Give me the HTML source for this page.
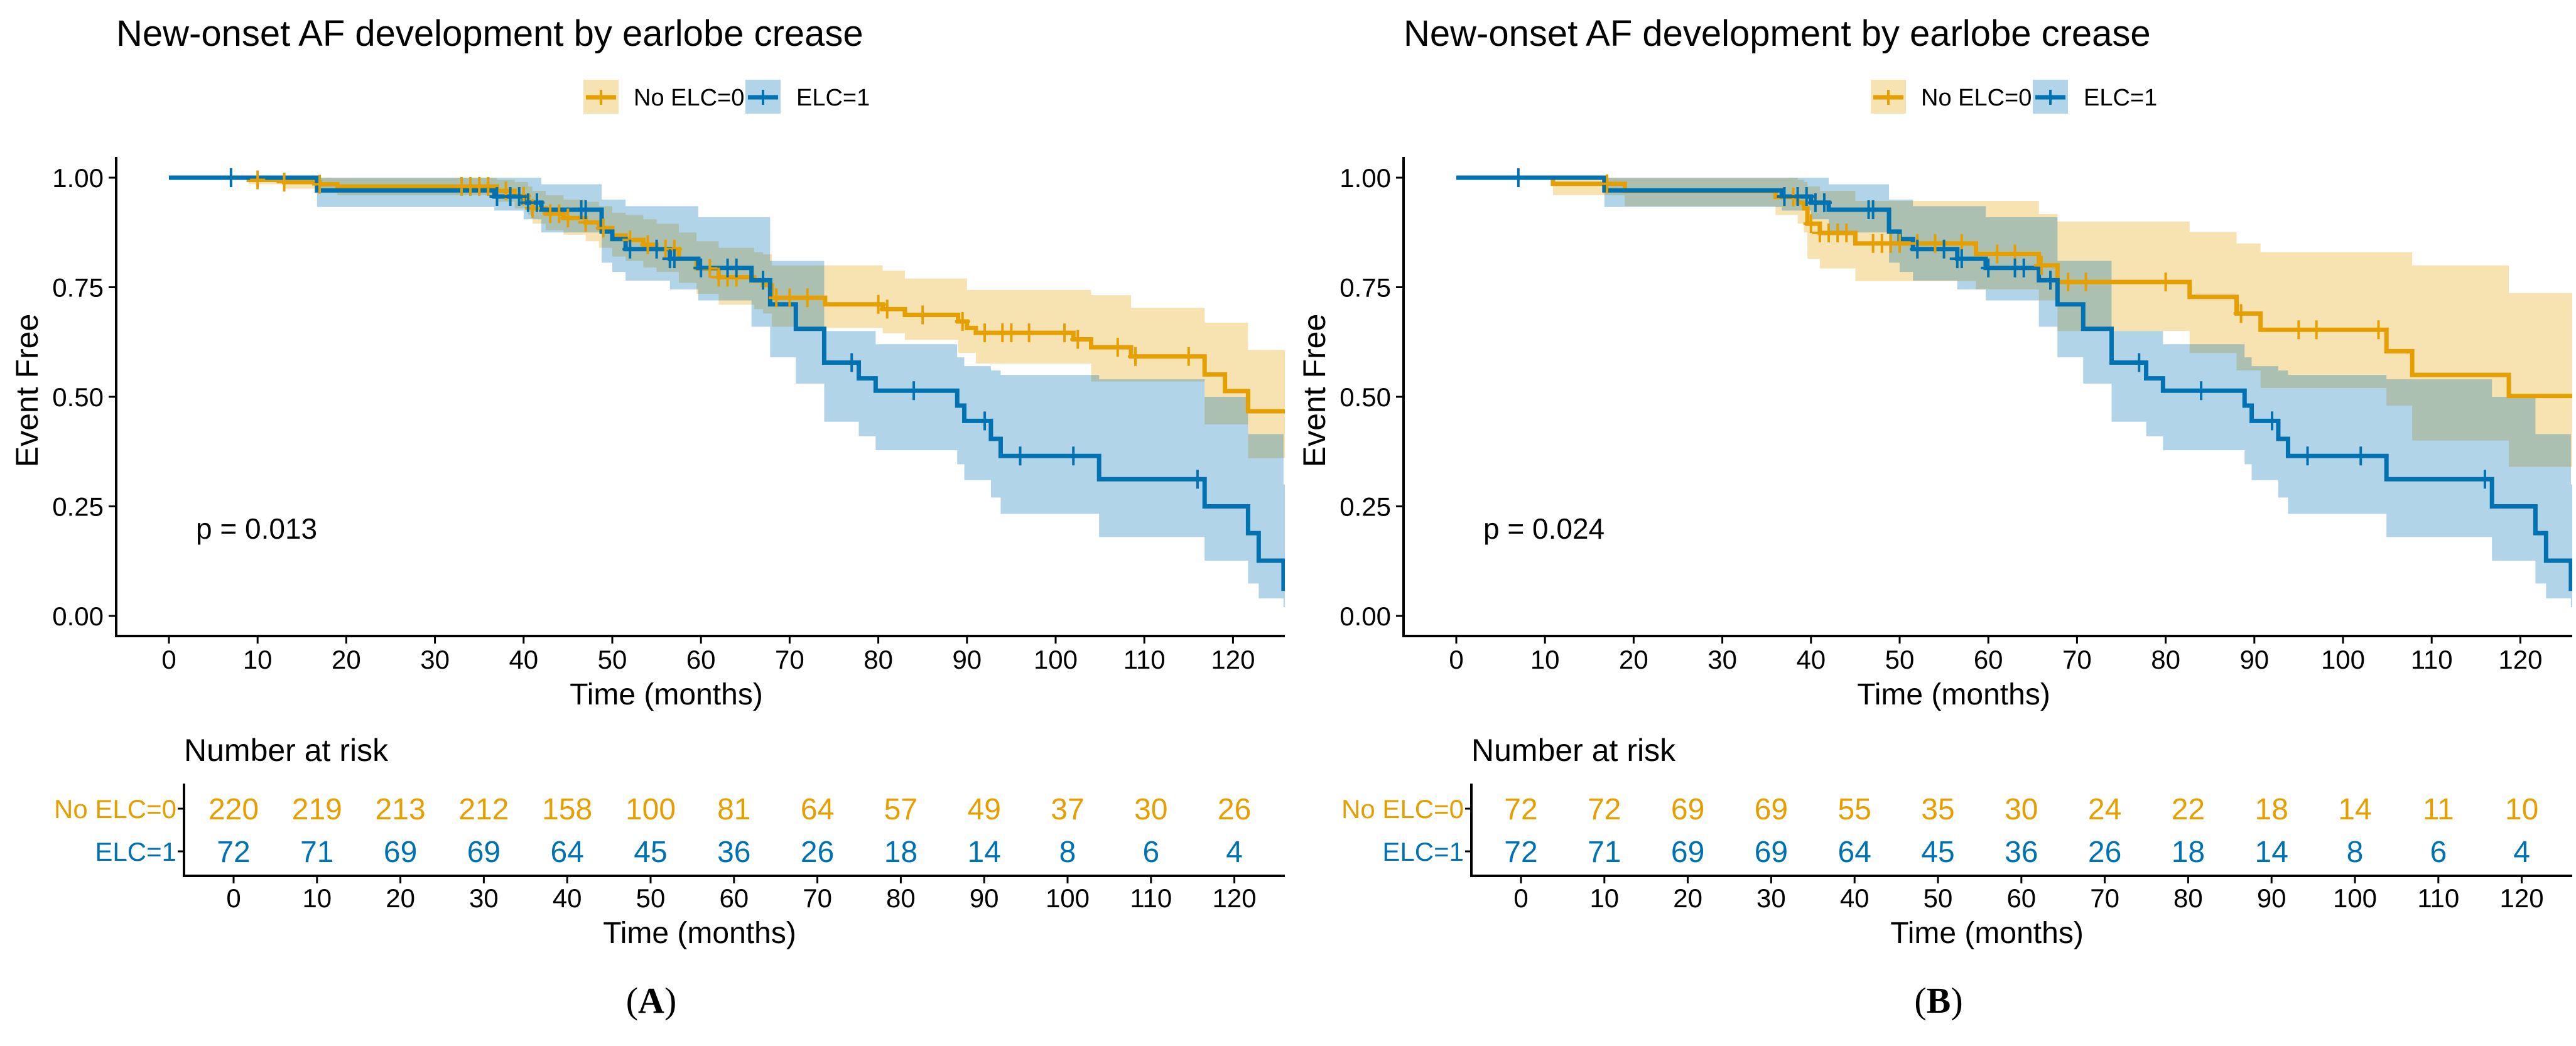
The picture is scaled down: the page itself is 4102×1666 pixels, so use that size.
<!DOCTYPE html>
<html><head><meta charset="utf-8"><style>
html,body{margin:0;padding:0;background:#fff}
svg{display:block;font-family:"Liberation Sans",Arial,sans-serif}
</style></head><body>
<svg id="root" width="4102" height="1666" viewBox="0 0 4102 1666" xmlns="http://www.w3.org/2000/svg"></svg>
<script>
// ---------- data ----------
const tickTimes = [0,10,20,30,40,50,60,70,80,90,100,110,120];
const yTicks = [0,0.25,0.5,0.75,1];
const yTickLabels = ["0.00","0.25","0.50","0.75","1.00"];

// ELC=1 (same cohort in both panels)
const blueT  = [0,16.7,36.7,40,42,48.8,50,51.5,56.5,59.7,65.7,67.8,70.7,73.9,77.8,79.7,88.9,89.7,92.7,93.8,104.9,116.8,121.7,122.9,125.7];
const blueS  = [1,0.971,0.957,0.943,0.927,0.877,0.86,0.837,0.815,0.794,0.766,0.711,0.655,0.578,0.542,0.514,0.48,0.445,0.404,0.365,0.312,0.25,0.189,0.126,0.062];
const blueLo = [1,0.933,0.925,0.905,0.875,0.806,0.785,0.765,0.745,0.72,0.66,0.59,0.53,0.443,0.41,0.378,0.346,0.31,0.27,0.233,0.18,0.126,0.074,0.04,0.02];
const blueHi = [1,1,1,1,0.985,0.95,0.95,0.935,0.935,0.91,0.91,0.81,0.81,0.65,0.65,0.62,0.59,0.57,0.56,0.55,0.54,0.50,0.415,0.415,0.3];
const blueCens = [7,37,38.5,39.5,40.5,41.5,46.5,47,52,55,56.5,57,60,63,64,67,77,84,92,96,102,116];

// Panel A: No ELC=0
const aYelT  = [0,9,13,17,19,37,39,40.5,41,42.5,44.5,47,48.5,50,51.5,53.5,55,57.5,59.5,62,66,67,68,74,80.5,83,89,90,91,102,104,108.5,116.8,119.1,121.7];
const aYelS  = [1,0.995,0.99,0.985,0.98,0.97,0.958,0.945,0.93,0.918,0.908,0.898,0.885,0.868,0.858,0.847,0.837,0.815,0.793,0.773,0.765,0.755,0.726,0.711,0.70,0.687,0.672,0.657,0.646,0.631,0.613,0.592,0.551,0.513,0.467];
const aYelLo = [1,0.985,0.975,0.965,0.96,0.945,0.93,0.915,0.895,0.88,0.87,0.855,0.84,0.82,0.81,0.795,0.785,0.76,0.735,0.71,0.70,0.69,0.66,0.657,0.645,0.63,0.60,0.60,0.576,0.576,0.535,0.535,0.437,0.437,0.36];
const aYelHi = [1,1,1,1,1,0.995,0.99,0.98,0.97,0.96,0.95,0.945,0.935,0.92,0.915,0.905,0.895,0.875,0.855,0.84,0.83,0.825,0.80,0.80,0.788,0.77,0.77,0.744,0.744,0.744,0.732,0.703,0.669,0.669,0.607];
const aYelCens = [10,13,17,33,34,35,36,38,40,41,43,44,45,47,49,52,54,56,57,61,62,63,64,68.5,70,72,80,81,85,89.5,92,94,95,97,101,102.5,107,109,115];

// Panel B: No ELC=0
const bYelT  = [0,10.9,19,36,38.5,39.2,39.6,41,45,58.6,65.7,67.8,82.7,88,90.7,104.9,107.8,118.7];
const bYelS  = [1,0.986,0.97,0.956,0.943,0.93,0.895,0.874,0.85,0.826,0.80,0.762,0.728,0.69,0.653,0.604,0.55,0.502];
const bYelLo = [1,0.96,0.935,0.915,0.895,0.875,0.815,0.793,0.764,0.745,0.72,0.65,0.60,0.56,0.52,0.48,0.40,0.34];
const bYelHi = [1,1,1,1,0.995,0.99,0.98,0.97,0.947,0.947,0.917,0.90,0.876,0.85,0.83,0.83,0.80,0.737];
const bYelCens = [17,37,38,40,41,42,43,44,47,48,49,50,52,54,57,61,63,66,69,71,80,88.5,95,97,104];

const aRiskYel = [220,219,213,212,158,100,81,64,57,49,37,30,26];
const bRiskYel = [72,72,69,69,55,35,30,24,22,18,14,11,10];
const riskBlue = [72,71,69,69,64,45,36,26,18,14,8,6,4];

// ---------- drawing ----------
const NS = "http://www.w3.org/2000/svg";
const root = document.getElementById("root");
const YEL = "#E69F00", BLU = "#0072B2";
const TMAX = 125.85;
function xs(t){ return 269 + t*14.12; }
function ys(s){ return 981 - s*698; }
function xr(t){ return 372 + t*13.28; }
function mk(parent, tag, attrs, text){
  const e = document.createElementNS(NS, tag);
  for (const k in attrs) e.setAttribute(k, attrs[k]);
  if (text !== undefined) e.textContent = text;
  parent.appendChild(e); return e;
}
function stepPath(T, S){
  let d = "M" + xs(T[0]) + "," + ys(S[0]);
  for (let i=1;i<T.length;i++){ d += "H" + xs(T[i]) + "V" + ys(S[i]); }
  d += "H" + xs(TMAX); return d;
}
function bandPath(T, Lo, Hi){
  let d = "M" + xs(T[0]) + "," + ys(Hi[0]);
  for (let i=1;i<T.length;i++){ d += "H" + xs(T[i]) + "V" + ys(Hi[i]); }
  d += "H" + xs(TMAX) + "V" + ys(Lo[Lo.length-1]);
  for (let i=T.length-1;i>=1;i--){ d += "H" + xs(T[i]) + "V" + ys(Lo[i-1]); }
  d += "H" + xs(T[0]) + "Z"; return d;
}
function survAt(T,S,t){ let v=S[0]; for(let i=0;i<T.length;i++){ if(T[i]<=t) v=S[i]; } return v; }

function panel(ox, label, yT, yS, yLo, yHi, yC, riskY, pText){
  const g = mk(root, "g", {transform:"translate("+ox+",0)"});
  
  
  let e;
  e = mk(g,"text",{x:185,y:73,"font-size":58,fill:"#000"},"New-onset AF development by earlobe crease");
   
  // legend
  const lg = mk(g,"g",{});
   
  const items = [[929,YEL,"No ELC=0",1009],[1187,BLU,"ELC=1",1268]];
  items.forEach(it=>{
    const li = mk(lg,"g",{});
     
    mk(li,"rect",{x:it[0],y:127,width:56,height:54,fill:it[1],"fill-opacity":0.3});
    mk(li,"line",{x1:it[0]+4,y1:155,x2:it[0]+52,y2:155,stroke:it[1],"stroke-width":7});
    mk(li,"line",{x1:it[0]+28,y1:143,x2:it[0]+28,y2:167,stroke:it[1],"stroke-width":4});
    mk(li,"text",{x:it[3],y:168,"font-size":38,fill:"#000"},it[2]);
  });
  // clip
  const cid = "clip"+label;
  const defs = mk(g,"defs",{});
  const cp = mk(defs,"clipPath",{id:cid});
  mk(cp,"rect",{x:186,y:240,width:1860,height:772});
  const plot = mk(g,"g",{"clip-path":"url(#"+cid+")"});
   
  e = mk(plot,"path",{d:bandPath(yT,yLo,yHi),fill:YEL,"fill-opacity":0.3});
   
  e = mk(plot,"path",{d:bandPath(blueT,blueLo,blueHi),fill:BLU,"fill-opacity":0.3});
   
  e = mk(plot,"path",{d:stepPath(yT,yS),fill:"none",stroke:YEL,"stroke-width":7});
   
  e = mk(plot,"path",{d:stepPath(blueT,blueS),fill:"none",stroke:BLU,"stroke-width":7});
   
  [[yC,yT,yS,YEL],[blueCens,blueT,blueS,BLU]].forEach(c=>{
    c[0].forEach(t=>{
      const x=xs(t), y=ys(survAt(c[1],c[2],t));
      const m = mk(plot,"path",{d:"M"+(x-12)+","+y+"H"+(x+12)+"M"+x+","+(y-15)+"V"+(y+15),stroke:c[3],"stroke-width":4});
       
    });
  });
  // axes
  e = mk(g,"path",{d:"M185,250V1013H2046",fill:"none",stroke:"#000","stroke-width":4});
   
  yTicks.forEach((v,i)=>{
    mk(g,"line",{x1:173,x2:185,y1:ys(v),y2:ys(v),stroke:"#000","stroke-width":3});
    const t = mk(g,"text",{x:165,y:ys(v)+15,"font-size":42,"text-anchor":"end",fill:"#000"},yTickLabels[i]);
     
  });
  tickTimes.forEach(v=>{
    mk(g,"line",{x1:xs(v),x2:xs(v),y1:1013,y2:1025,stroke:"#000","stroke-width":3});
    const t = mk(g,"text",{x:xs(v),y:1065,"font-size":42,"text-anchor":"middle",fill:"#000"},String(v));
     
  });
  e = mk(g,"text",{x:1061,y:1122,"font-size":48,"text-anchor":"middle",fill:"#000"},"Time (months)");
   
  e = mk(g,"text",{x:0,y:0,"font-size":50,"text-anchor":"middle",fill:"#000",transform:"translate(60,622) rotate(-90)"},"Event Free");
   
  e = mk(g,"text",{x:312,y:858,"font-size":46,fill:"#000"},pText);
   
  // risk table
  e = mk(g,"text",{x:293,y:1212,"font-size":50,fill:"#000"},"Number at risk");
   
  e = mk(g,"path",{d:"M293,1248V1395H2046",fill:"none",stroke:"#000","stroke-width":4});
   
  [[1288,YEL,"No ELC=0",riskY],[1356,BLU,"ELC=1",riskBlue]].forEach(r=>{
    mk(g,"line",{x1:283,x2:293,y1:r[0],y2:r[0],stroke:"#000","stroke-width":3});
    const l = mk(g,"text",{x:281,y:r[0]+15,"font-size":42,"text-anchor":"end",fill:r[1]},r[2]);
     
    r[3].forEach((n,i)=>{
      const t = mk(g,"text",{x:xr(tickTimes[i]),y:r[0]+17,"font-size":48,"text-anchor":"middle",fill:r[1]},String(n));
       
    });
  });
  tickTimes.forEach(v=>{
    mk(g,"line",{x1:xr(v),x2:xr(v),y1:1395,y2:1407,stroke:"#000","stroke-width":3});
    const t = mk(g,"text",{x:xr(v),y:1445,"font-size":42,"text-anchor":"middle",fill:"#000"},String(v));
     
  });
  e = mk(g,"text",{x:1114,y:1502,"font-size":48,"text-anchor":"middle",fill:"#000"},"Time (months)");
   
  e = mk(g,"text",{x:1037,y:1613,"font-size":58,"text-anchor":"middle",fill:"#000","font-family":"Liberation Serif, serif"},"");
   
  mk(e,"tspan",{},"(");
  mk(e,"tspan",{"font-weight":"bold"},label);
  mk(e,"tspan",{},")");
}
panel(0,"A",aYelT,aYelS,aYelLo,aYelHi,aYelCens,aRiskYel,"p = 0.013");
panel(2050,"B",bYelT,bYelS,bYelLo,bYelHi,bYelCens,bRiskYel,"p = 0.024");
</script>
</body></html>
